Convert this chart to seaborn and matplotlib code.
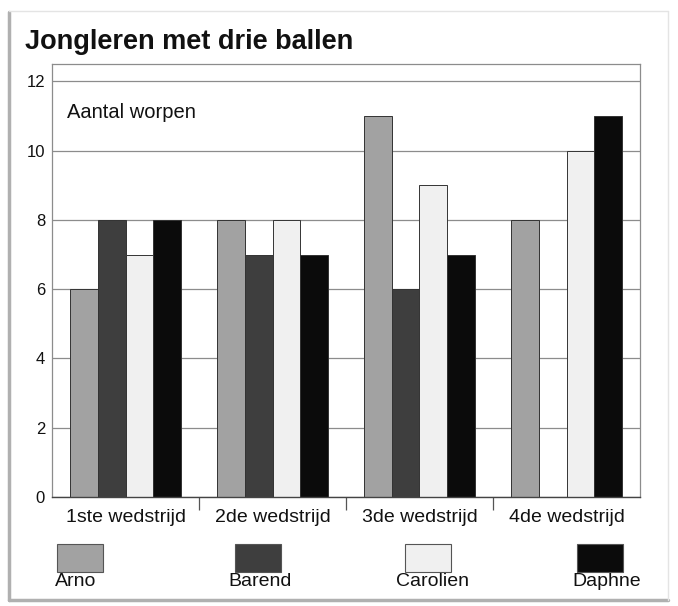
import matplotlib
matplotlib.use("Agg")
import matplotlib.pyplot as plt
from matplotlib.patches import Rectangle
from matplotlib.lines import Line2D
import seaborn as sns
import pandas as pd
import numpy as np

# Data
wedstrijden = ["1ste wedstrijd", "2de wedstrijd", "3de wedstrijd", "4de wedstrijd"]
namen = ["Arno", "Barend", "Carolien", "Daphne"]
arno = [6, 8, 11, 8]
barend = [8, 7, 6, np.nan]
carolien = [7, 8, 9, 10]
daphne = [8, 7, 7, 11]
yticks = [0, 2, 4, 6, 8, 10, 12]
kleuren = ["#a2a2a2", "#3e3e3e", "#f0f0f0", "#0b0b0b"]

series = {"Arno": arno, "Barend": barend, "Carolien": carolien, "Daphne": daphne}
rows = []
for naam in namen:
    for w, v in zip(wedstrijden, series[naam]):
        rows.append({"wedstrijd": w, "naam": naam, "worpen": v})
df = pd.DataFrame(rows)

sns.set_theme(style="white")
plt.rcParams["font.family"] = ["Liberation Sans", "DejaVu Sans"]

fig = plt.figure(figsize=(6.78, 6.06), dpi=100)
ax = fig.add_axes([52/678, 1-497/606, (640-52)/678, (497-64)/606])

ax.set_axisbelow(True)
for y in yticks:
    ax.axhline(y, color="#8c8c8c", lw=0.9, zorder=0)

sns.barplot(data=df, x="wedstrijd", y="worpen", hue="naam", order=wedstrijden,
            hue_order=namen, palette=kleuren, width=0.76, gap=0,
            edgecolor="#333333", linewidth=0.7, saturation=1, legend=False, ax=ax,
            errorbar=None)

ax.set_xlim(-0.5, 3.5)
ax.set_ylim(0, 12.5)
ax.set_yticks(yticks)
ax.set_yticklabels([str(t) for t in yticks], fontsize=12, color="#111111")
ax.set_xticks(range(4))
ax.set_xticklabels(wedstrijden, fontsize=14, color="#111111")
ax.set_xticks([0.5, 1.5, 2.5], minor=True)
ax.tick_params(axis="x", which="major", length=0, pad=9)
ax.tick_params(axis="x", which="minor", length=9, width=0.9, color="#555555", bottom=True)
ax.tick_params(axis="y", length=0, pad=5)
ax.set_xlabel("")
ax.set_ylabel("")
for side in ["left", "right", "top"]:
    ax.spines[side].set_color("#8c8c8c")
    ax.spines[side].set_linewidth(0.9)
ax.spines["bottom"].set_color("#444444")
ax.spines["bottom"].set_linewidth(1.0)

ax.text(0.026, 11.1, "Aantal worpen", fontsize=14.5, color="#111111",
        va="center", ha="left", transform=ax.get_yaxis_transform())

fig.text(25/678, 1-42/606, "Jongleren met drie ballen", fontsize=19.5,
         fontweight="bold", color="#111111", va="center", ha="left")

# legend below
box_x = [57, 235, 405, 577]
lab_x = [55, 228, 396, 572]
for naam, kleur, bx, lx in zip(namen, kleuren, box_x, lab_x):
    fig.patches.append(Rectangle((bx/678, 1-572/606), 46/678, 28/606,
                                 transform=fig.transFigure, facecolor=kleur,
                                 edgecolor="#555555", lw=0.8))
    fig.text(lx/678, 1-582/606, naam, fontsize=14, color="#111111",
             va="center", ha="left")

# card border
fig.lines.append(Line2D([9/678, 9/678], [1-12/606, 1-600/606], transform=fig.transFigure,
                        color="#b0b0b0", lw=2.5))
fig.lines.append(Line2D([9/678, 668/678], [1-600/606, 1-600/606], transform=fig.transFigure,
                        color="#b0b0b0", lw=2.5))
fig.lines.append(Line2D([9/678, 668/678], [1-11/606, 1-11/606], transform=fig.transFigure,
                        color="#e4e4e4", lw=1))
fig.lines.append(Line2D([668/678, 668/678], [1-11/606, 1-600/606], transform=fig.transFigure,
                        color="#e4e4e4", lw=1))

fig.savefig("out.png", dpi=100, facecolor="white")
